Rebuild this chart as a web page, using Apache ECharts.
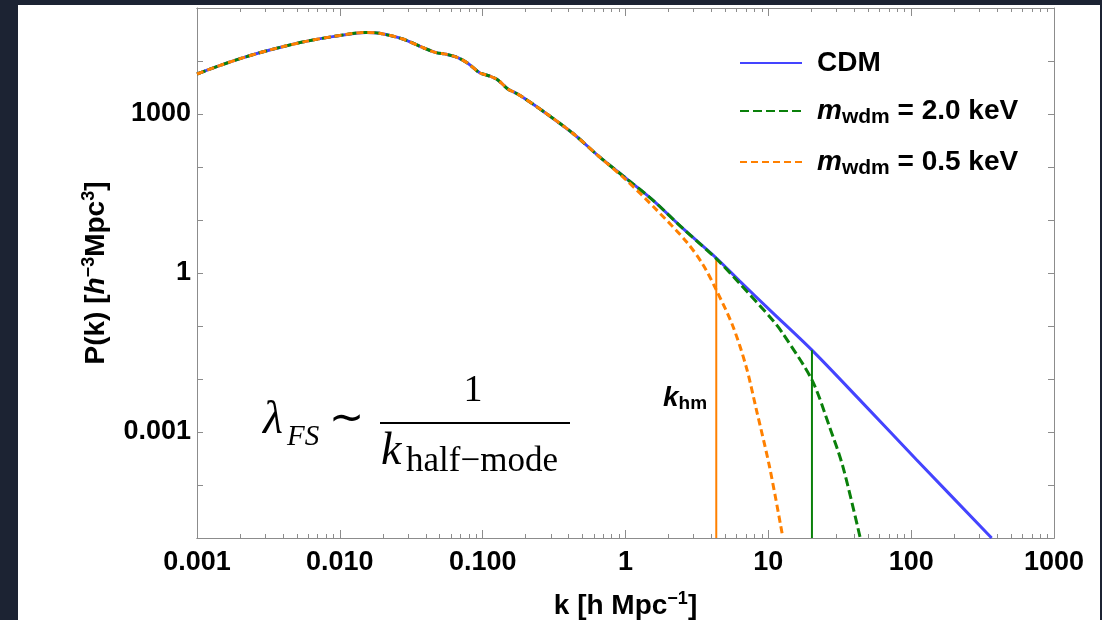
<!DOCTYPE html>
<html>
<head>
<meta charset="utf-8">
<script src="https://cdn.jsdelivr.net/npm/echarts@6/dist/echarts.min.js"></script>
<style>
html, body { margin: 0; padding: 0; background: #1c2333; }
#main { width: 1102px; height: 620px; }
</style>
</head>
<body>
<div id="main"></div>
<script>
var chartDom = document.getElementById('main');
var myChart = echarts.init(chartDom);

// CDM linear power spectrum
var kCdm = [0.001, 0.00136, 0.00198, 0.00274, 0.00398, 0.0058, 0.0089, 0.0153, 0.0189, 0.0276,
    0.0391, 0.0472, 0.0555, 0.0669, 0.0787, 0.0951, 0.1117, 0.1277, 0.150, 0.1717,
    0.191, 0.2636, 0.4276, 0.658, 1.01, 1.553, 2.51, 4.32, 6.28, 10.7,
    20.2, 45, 109, 366]
var pCdm = [5690, 7760, 10960, 14290, 18620, 23440, 28840, 34670, 33300, 26000,
    17400, 14400, 13400, 11600, 9060, 6010, 5210, 4390, 2970, 2460,
    2070, 1140, 433, 155, 61, 23.8, 7.0, 1.92, 0.71, 0.179,
    0.035, 0.0037, 3.0e-4, 1e-5]

// WDM curves: same as CDM on large scales, then these tails
var joinWdm2 = 27   // number of CDM points shared
var kWdm2 = [4.32, 6.28, 10.7, 12.6, 20.2, 26.8, 33.3, 44]
var pWdm2 = [1.86, 0.64, 0.13, 0.073, 0.0096, 1.26e-3, 2.2e-4, 1e-5]

var joinWdm05 = 24
var kWdm05 = [1.01, 1.65, 2.67, 3.48, 4.32, 5.64, 7.0, 8.23, 10.2, 12.5]
var pWdm05 = [57, 15.5, 3.9, 1.45, 0.48, 0.1, 0.017, 0.0027, 2.2e-4, 1.2e-5]

// half-mode wavenumbers (0.5 keV, 2.0 keV) and the CDM value where the marker stops
var kHalfMode = [4.32, 20.2]
var pHalfModeTop = [1.92, 0.035]
var pFloor = 1e-5

var xTickValues = [0.001, 0.01, 0.1, 1, 10, 100, 1000]
var xTickLabels = ['0.001', '0.010', '0.100', '1', '10', '100', '1000']
var yTickValues = [1e-5, 1e-4, 1e-3, 1e-2, 1e-1, 1, 10, 100, 1000, 1e4, 1e5]
var yLabelValues = [0.001, 1, 1000]
var yLabelTexts = ['0.001', '1', '1000']

var xMinorTicks = []
for (let d = 0; d < xTickValues.length - 1; d++) {
    for (let m = 2; m <= 9; m++) {
        xMinorTicks.push(m * xTickValues[d])
    }
}

function pairs(ks, ps) {
    return ks.map((k, i) => [k, ps[i]])
}

function labelFor(values, texts, v) {
    for (let i = 0; i < values.length; i++) {
        if (Math.abs(Math.log10(v) - Math.log10(values[i])) < 1e-6) return texts[i]
    }
    return ''
}

const BLUE = '#4444ff'
const GREEN = '#0a800a'
const ORANGE = '#ff8000'
const AXIS = '#8c8c8c'
const FONT = 'Liberation Sans'

cdmData = pairs(kCdm, pCdm)
wdm2Data = cdmData.slice(0, joinWdm2).concat(pairs(kWdm2, pWdm2))
wdm05Data = cdmData.slice(0, joinWdm05).concat(pairs(kWdm05, pWdm05))

function xAxis(position, ticks, len, withLabel) {
    return {
        type: 'log', logBase: 10, min: 0.001, max: 1000, position: position,
        axisLine: { show: true, lineStyle: { color: AXIS, width: 1 } },
        axisTick: { show: true, inside: true, length: len, customValues: ticks, lineStyle: { color: AXIS } },
        axisLabel: withLabel ? {
            show: true, customValues: xTickValues, margin: 11,
            fontFamily: FONT, fontWeight: 'bold', fontSize: 27, color: '#000',
            formatter: v => labelFor(xTickValues, xTickLabels, v)
        } : { show: false },
        splitLine: { show: false }, minorTick: { show: false }
    }
}

function yAxis(position, withLabel) {
    return {
        type: 'log', logBase: 10, min: 1e-5, max: 1e5, position: position,
        axisLine: { show: true, lineStyle: { color: AXIS, width: 1 } },
        axisTick: { show: true, inside: true, length: 6, customValues: yTickValues, lineStyle: { color: AXIS } },
        axisLabel: withLabel ? {
            show: true, customValues: yLabelValues, margin: 6,
            fontFamily: FONT, fontWeight: 'bold', fontSize: 27, color: '#000',
            formatter: v => labelFor(yLabelValues, yLabelTexts, v)
        } : { show: false },
        splitLine: { show: false }
    }
}

var bottomX = xAxis('bottom', xTickValues, 8, true)
bottomX.name = '{b|k [h Mpc}{sup|\u22121}{b|]}'
bottomX.nameLocation = 'middle'
bottomX.nameGap = 52
bottomX.nameTextStyle = {
    rich: {
        b: { fontFamily: FONT, fontWeight: 'bold', fontSize: 28, color: '#000', lineHeight: 32 },
        sup: { fontFamily: FONT, fontWeight: 'bold', fontSize: 18, color: '#000', lineHeight: 18, verticalAlign: 'top' }
    }
}

var leftY = yAxis('left', true)
leftY.name = '{b|P(k) [}{i|h}{sup|\u22123}{b|Mpc}{sup|3}{b|]}'
leftY.nameLocation = 'middle'
leftY.nameGap = 85
leftY.nameRotate = 90
leftY.nameTextStyle = {
    rich: {
        b: { fontFamily: FONT, fontWeight: 'bold', fontSize: 28, color: '#000', lineHeight: 32 },
        i: { fontFamily: FONT, fontWeight: 'bold', fontStyle: 'italic', fontSize: 28, color: '#000', lineHeight: 32 },
        sup: { fontFamily: FONT, fontWeight: 'bold', fontSize: 18, color: '#000', lineHeight: 18, verticalAlign: 'top' }
    }
}

var legendRich = {
    b: { fontFamily: FONT, fontWeight: 'bold', fontSize: 28, color: '#000', lineHeight: 34 },
    i: { fontFamily: FONT, fontWeight: 'bold', fontStyle: 'italic', fontSize: 28, color: '#000', lineHeight: 34 },
    s: { fontFamily: FONT, fontWeight: 'bold', fontSize: 21, color: '#000', lineHeight: 17, verticalAlign: 'bottom' }
}

function vline(i, color) {
    return {
        type: 'line', data: [[kHalfMode[i], pHalfModeTop[i]], [kHalfMode[i], pFloor]],
        symbol: 'none', lineStyle: { color: color, width: 2 }, z: 3, silent: true
    }
}

var option = {
    backgroundColor: '#1c2333',
    animation: false,
    grid: { left: 197, right: 48, top: 8, bottom: 82, outerBoundsMode: 'none', containLabel: false },
    xAxis: [
        bottomX,
        xAxis('bottom', xMinorTicks, 4, false),
        xAxis('top', xTickValues, 8, false),
        xAxis('top', xMinorTicks, 4, false)
    ],
    yAxis: [leftY, yAxis('right', false)],
    legend: {
        data: ['CDM', 'wdm2', 'wdm05'],
        orient: 'vertical', left: 734, top: 44,
        itemWidth: 62, itemHeight: 14, itemGap: 20,
        selectedMode: false,
        itemStyle: { opacity: 0 },
        textStyle: { rich: legendRich, padding: [0, 0, 0, 10] },
        formatter: function (name) {
            if (name == 'CDM') return '{b|CDM}'
            if (name == 'wdm2') return '{i|m}{s|wdm}{b| = 2.0 keV}'
            return '{i|m}{s|wdm}{b| = 0.5 keV}'
        }
    },
    graphic: [
        { type: 'rect', shape: { x: 18, y: 5, width: 1082, height: 615 }, style: { fill: '#fff' }, z: -10 },
        // k_hm marker label
        { type: 'text', x: 663, y: 398, z: 10, style: {
            text: '{k|k}{s|hm}', verticalAlign: 'middle',
            rich: {
                k: { fontFamily: FONT, fontWeight: 'bold', fontStyle: 'italic', fontSize: 28, fill: '#000', lineHeight: 30 },
                s: { fontFamily: FONT, fontWeight: 'bold', fontSize: 19, fill: '#000', lineHeight: 17, verticalAlign: 'bottom' }
            } } },
        // free-streaming formula
        { type: 'text', x: 263, y: 421, z: 10, style: { text: '\u03bb', font: 'italic 46px "Liberation Serif"', fill: '#000', verticalAlign: 'middle' } },
        { type: 'text', x: 287, y: 437, z: 10, style: { text: 'FS', font: 'italic 29px "Liberation Serif"', fill: '#000', verticalAlign: 'middle' } },
        { type: 'text', x: 346, y: 420, z: 10, style: { text: '\u223c', font: '42px "Liberation Serif"', fill: '#000', align: 'center', verticalAlign: 'middle' } },
        { type: 'line', shape: { x1: 380, y1: 423, x2: 570, y2: 423 }, style: { stroke: '#000', lineWidth: 2 }, z: 10 },
        { type: 'text', x: 473, y: 391, z: 10, style: { text: '1', font: '38px "Liberation Serif"', fill: '#000', align: 'center', verticalAlign: 'middle' } },
        { type: 'text', x: 381, y: 452, z: 10, style: { text: 'k', font: 'italic 46px "Liberation Serif"', fill: '#000', verticalAlign: 'middle' } },
        { type: 'text', x: 406, y: 462, z: 10, style: { text: 'half\u2212mode', font: '35px "Liberation Serif"', fill: '#000', verticalAlign: 'middle' } }
    ],
    series: [
        { name: 'CDM', type: 'line', data: cdmData, symbol: 'none', smooth: 0.3,
          lineStyle: { color: BLUE, width: 3 }, itemStyle: { color: BLUE }, z: 2 },
        vline(0, ORANGE),
        vline(1, GREEN),
        { name: 'wdm2', type: 'line', data: wdm2Data, symbol: 'none', smooth: 0.3,
          lineStyle: { color: GREEN, width: 3, type: [9, 4] }, itemStyle: { color: GREEN }, z: 4 },
        { name: 'wdm05', type: 'line', data: wdm05Data, symbol: 'none', smooth: 0.3,
          lineStyle: { color: ORANGE, width: 3, type: [7, 4] }, itemStyle: { color: ORANGE }, z: 5 }
    ]
};
option && myChart.setOption(option);
</script>
</body>
</html>
